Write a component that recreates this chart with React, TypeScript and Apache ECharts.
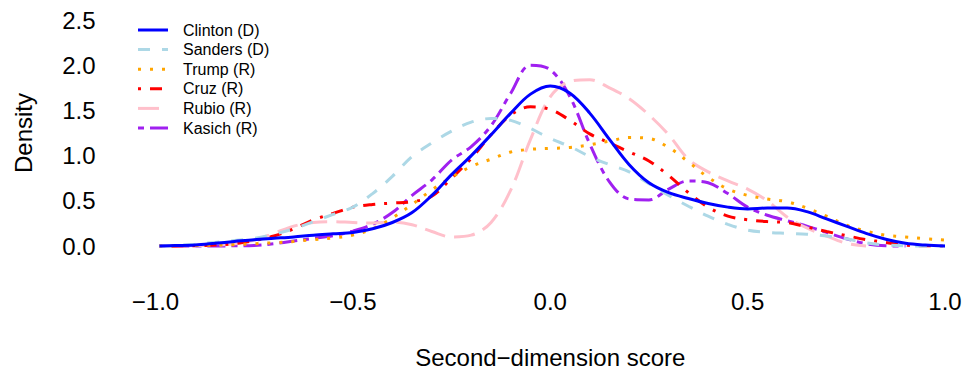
import React, { useEffect, useRef } from "react";
import * as echarts from "echarts";

const xs = [-0.99, -0.95, -0.9, -0.85, -0.8, -0.75, -0.7, -0.65, -0.6, -0.55, -0.5, -0.45, -0.4, -0.35, -0.3, -0.25, -0.2, -0.15, -0.1, -0.05, 0, 0.05, 0.1, 0.15, 0.2, 0.25, 0.3, 0.35, 0.4, 0.45, 0.5, 0.55, 0.6, 0.65, 0.7, 0.75, 0.8, 0.85, 0.9, 0.95, 1.0, 1.05];

const clinton = [0, 0.005, 0.012, 0.03, 0.05, 0.07, 0.085, 0.1, 0.12, 0.135, 0.15, 0.19, 0.26, 0.37, 0.56, 0.79, 1.0, 1.23, 1.47, 1.68, 1.77, 1.69, 1.47, 1.18, 0.9, 0.7, 0.59, 0.525, 0.47, 0.43, 0.41, 0.42, 0.42, 0.38, 0.3, 0.22, 0.14, 0.075, 0.03, 0.01, 0, null];
const sanders = [0, 0.005, 0.02, 0.04, 0.06, 0.085, 0.13, 0.19, 0.27, 0.35, 0.43, 0.58, 0.77, 0.99, 1.14, 1.27, 1.37, 1.41, 1.39, 1.3, 1.19, 1.1, 0.99, 0.9, 0.82, 0.69, 0.56, 0.44, 0.33, 0.24, 0.175, 0.15, 0.14, 0.13, 0.11, 0.08, 0.035, 0.012, 0.003, 0, 0, null];
const trump = [0, 0.002, 0.005, 0.01, 0.015, 0.025, 0.036, 0.05, 0.07, 0.09, 0.12, 0.19, 0.31, 0.46, 0.62, 0.76, 0.88, 0.96, 1.04, 1.07, 1.08, 1.09, 1.12, 1.16, 1.2, 1.19, 1.09, 0.93, 0.76, 0.63, 0.56, 0.52, 0.49, 0.42, 0.33, 0.23, 0.165, 0.12, 0.1, 0.08, 0.065, 0.04];
const cruz = [0, 0.001, 0.003, 0.01, 0.025, 0.06, 0.11, 0.19, 0.29, 0.36, 0.43, 0.46, 0.475, 0.49, 0.55, 0.75, 0.97, 1.23, 1.45, 1.54, 1.51, 1.39, 1.24, 1.14, 1.04, 0.94, 0.78, 0.59, 0.43, 0.33, 0.29, 0.27, 0.26, 0.21, 0.16, 0.115, 0.07, 0.04, 0.01, 0.003, 0, null];
const rubio = [0, 0.001, 0.005, 0.01, 0.025, 0.065, 0.14, 0.22, 0.26, 0.27, 0.26, 0.255, 0.265, 0.235, 0.16, 0.1, 0.12, 0.26, 0.62, 1.18, 1.65, 1.82, 1.84, 1.75, 1.63, 1.45, 1.23, 0.96, 0.82, 0.72, 0.63, 0.5, 0.32, 0.2, 0.11, 0.03, 0, null, null, null, null, null];
const kasich = [0, 0, 0, 0.001, 0.002, 0.006, 0.025, 0.055, 0.085, 0.115, 0.165, 0.24, 0.37, 0.56, 0.73, 0.95, 1.1, 1.33, 1.69, 2.0, 1.95, 1.65, 1.13, 0.71, 0.52, 0.51, 0.63, 0.72, 0.7, 0.58, 0.43, 0.34, 0.28, 0.22, 0.15, 0.08, 0.025, 0.003, 0, null, null, null];

const seriesNames = ["Clinton (D)", "Sanders (D)", "Trump (R)", "Cruz (R)", "Rubio (R)", "Kasich (R)"];
const seriesValues = [clinton, sanders, trump, cruz, rubio, kasich];
const seriesColors = ["#0000FF", "#ADD8E6", "#FFA500", "#FF0000", "#FFC0CB", "#A020F0"];
const seriesDashes: (number[] | null)[] = [null, [12, 12], [3, 9], [3, 9, 12, 9], [21, 9], [6, 6, 18, 6]];

const xTicks = { min: -1, max: 1, interval: 0.5 };
const yTicks = { min: 0, max: 2.5, interval: 0.5 };

const FONT = "'Liberation Sans', Arial, Helvetica, sans-serif";

const fmt = (v: number) => v.toFixed(1).replace("-", "\u2212");

export default function App() {
  const ref = useRef<HTMLDivElement>(null);
  useEffect(() => {
    document.body.style.margin = "0";
    if (!ref.current) return;
    const chart = echarts.init(ref.current, undefined, { renderer: "svg" });

    const legendTop = 30;
    const legendPitch = 19.6;
    const legendGraphics: any[] = [];
    seriesNames.forEach((name, i) => {
      const y = legendTop + i * legendPitch;
      legendGraphics.push({
        type: "line",
        shape: { x1: 138, y1: y, x2: 168, y2: y },
        style: {
          stroke: seriesColors[i],
          lineWidth: 3,
          lineDash: seriesDashes[i] || null,
          lineCap: "butt",
        },
        silent: true,
      });
      legendGraphics.push({
        type: "text",
        x: 183,
        y,
        style: {
          text: name,
          fill: "#000",
          font: `16px ${FONT}`,
          verticalAlign: "middle",
          textAlign: "left",
        },
        silent: true,
      });
    });

    chart.setOption({
      animation: false,
      backgroundColor: "#ffffff",
      textStyle: { fontFamily: FONT },
      grid: { left: 155.5, right: 27, top: 20, bottom: 128, containLabel: false },
      graphic: legendGraphics,
      xAxis: {
        type: "value",
        min: xTicks.min,
        max: xTicks.max,
        interval: xTicks.interval,
        name: "Second\u2212dimension score",
        nameLocation: "middle",
        nameGap: 99,
        nameTextStyle: { fontSize: 24, color: "#000", fontFamily: FONT },
        axisLine: { show: false },
        axisTick: { show: false },
        splitLine: { show: false },
        axisLabel: { fontSize: 24, color: "#000", margin: 43, fontFamily: FONT, formatter: fmt },
      },
      yAxis: {
        type: "value",
        min: yTicks.min,
        max: yTicks.max,
        interval: yTicks.interval,
        name: "Density",
        nameLocation: "middle",
        nameGap: 120,
        nameRotate: 90,
        nameTextStyle: { fontSize: 24, color: "#000", fontFamily: FONT },
        axisLine: { show: false },
        axisTick: { show: false },
        splitLine: { show: false },
        axisLabel: { fontSize: 24, color: "#000", margin: 60, fontFamily: FONT, formatter: fmt },
      },
      series: seriesNames.map((name, i) => ({
        name,
        type: "line",
        data: xs.map((x, j) => [x, seriesValues[i][j]]),
        smooth: 0.35,
        showSymbol: false,
        symbol: "none",
        clip: false,
        connectNulls: false,
        lineStyle: { color: seriesColors[i], width: 3, type: seriesDashes[i] || "solid", cap: "butt" },
        itemStyle: { color: seriesColors[i] },
        z: 10 - i,
      })),
    });
    return () => chart.dispose();
  }, []);
  return <div ref={ref} style={{ width: 972, height: 374 }} />;
}
